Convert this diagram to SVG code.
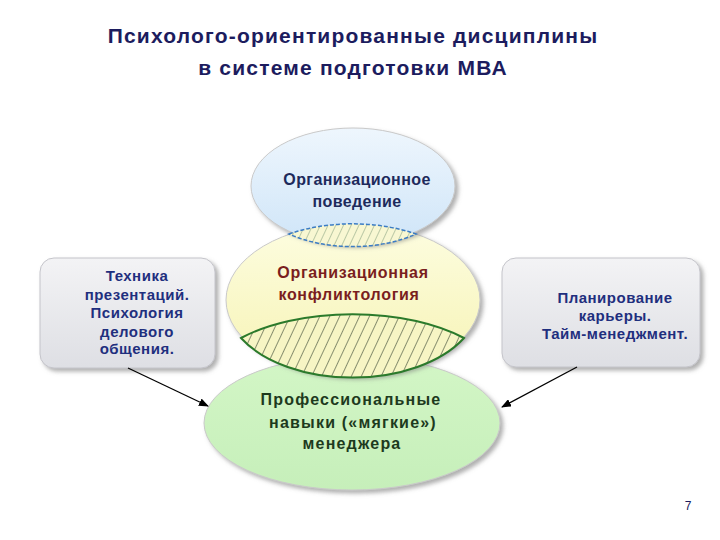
<svg xmlns="http://www.w3.org/2000/svg" width="720" height="540" viewBox="0 0 720 540">
  <defs>
    <style>
      text { font-family: "Liberation Sans", Arial, sans-serif; text-anchor: middle; }
      .title { font-size: 21px; font-weight: bold; fill: #1c1c5e; letter-spacing: 1.2px; }
      .box-text { font-size: 15px; font-weight: bold; fill: #1f2f7e; letter-spacing: 0.5px; }
      .t-blue { font-size: 16px; font-weight: bold; fill: #1d2a5c; letter-spacing: 0.4px; }
      .t-red { font-size: 16px; font-weight: bold; fill: #7a1e1e; letter-spacing: 0.7px; }
      .t-green { font-size: 16px; font-weight: bold; fill: #1d3a1d; letter-spacing: 1.2px; }
      .page { font-size: 12px; fill: #1c1c5e; }
      .box { stroke: #c4c4ca; stroke-width: 1; filter: url(#shadow); }
      .ell { filter: url(#shadow); stroke: #c9c9c9; stroke-width: 1; }
      .arrow { stroke: #000; stroke-width: 1.3; fill: none; marker-end: url(#arrowhead); }
    </style>
    <filter id="shadow" x="-10%" y="-10%" width="125%" height="130%">
      <feDropShadow dx="3" dy="3" stdDeviation="2" flood-color="#7a7a7a" flood-opacity="0.6"/>
    </filter>
    <linearGradient id="gBlue" x1="0" y1="0" x2="0" y2="1">
      <stop offset="0" stop-color="#eef6fd"/>
      <stop offset="1" stop-color="#cfe5f8"/>
    </linearGradient>
    <linearGradient id="gYellow" x1="0" y1="0" x2="0" y2="1">
      <stop offset="0" stop-color="#fdfde0"/>
      <stop offset="1" stop-color="#f6f3b4"/>
    </linearGradient>
    <linearGradient id="gGreen" x1="0" y1="0" x2="0" y2="1">
      <stop offset="0" stop-color="#d3f6c6"/>
      <stop offset="1" stop-color="#c6efba"/>
    </linearGradient>
    <linearGradient id="gBox" x1="0" y1="0" x2="0" y2="1">
      <stop offset="0" stop-color="#f3f3f5"/>
      <stop offset="1" stop-color="#dedfe4"/>
    </linearGradient>
    <pattern id="hatchDark" patternUnits="userSpaceOnUse" width="9" height="9" patternTransform="rotate(25)">
      <rect width="9" height="9" fill="#f7f5c4"/>
      <line x1="0" y1="0" x2="0" y2="9" stroke="#1a2a1a" stroke-width="1"/>
    </pattern>
    <pattern id="hatchLight" patternUnits="userSpaceOnUse" width="7" height="7" patternTransform="rotate(25)">
      <rect width="7" height="7" fill="#f8f7d2"/>
      <line x1="0" y1="0" x2="0" y2="7" stroke="#7c9a78" stroke-width="1"/>
    </pattern>
    <marker id="arrowhead" markerWidth="10" markerHeight="8" refX="9" refY="4" orient="auto" markerUnits="userSpaceOnUse">
      <path d="M0,0 L10,4 L0,8 Z" fill="#000"/>
    </marker>
  </defs>

  <rect width="720" height="540" fill="#ffffff"/>

  <g id="title">
    <text class="title" x="353" y="43">Психолого-ориентированные дисциплины</text>
    <text class="title" x="353" y="75">в системе подготовки МВА</text>
  </g>

  <g id="node-soft-skills">
    <ellipse class="ell" cx="352" cy="423" rx="148" ry="67" fill="url(#gGreen)"/>
    <text class="t-green" x="351" y="405">Профессиональные</text>
    <text class="t-green" x="353" y="428">навыки («мягкие»)</text>
    <text class="t-green" x="352" y="449">менеджера</text>
  </g>

  <g id="node-conflict">
    <ellipse class="ell" cx="353" cy="300" rx="127" ry="76" fill="url(#gYellow)"/>
  </g>

  <g id="node-org-behavior">
    <ellipse class="ell" cx="353" cy="186" rx="102" ry="58" fill="url(#gBlue)"/>
    <text class="t-blue" x="357" y="185">Организационное</text>
    <text class="t-blue" x="357" y="207">поведение</text>
  </g>

  <g id="overlap-top">
    <path d="M289,234 A127,76 0 0 1 416,234 A102,58 0 0 1 289,234 Z" fill="url(#hatchLight)" stroke="#3b7cc4" stroke-width="1.5" stroke-dasharray="4 2"/>
  </g>

  <g id="overlap-bottom">
    <path d="M241,338 A150,72 0 0 1 464,338 A127,76 0 0 1 241,338 Z" fill="url(#hatchDark)" stroke="#2b7a2b" stroke-width="2"/>
  </g>

  <g id="label-conflict">
    <text class="t-red" x="353" y="278">Организационная</text>
    <text class="t-red" x="349" y="300">конфликтология</text>
  </g>

  <g id="node-presentation">
    <rect class="box" x="40" y="258" width="175" height="110" rx="14" fill="url(#gBox)"/>
    <text class="box-text" x="137" y="281">Техника</text>
    <text class="box-text" x="137" y="300">презентаций.</text>
    <text class="box-text" x="137" y="318">Психология</text>
    <text class="box-text" x="137" y="337">делового</text>
    <text class="box-text" x="137" y="354">общения.</text>
  </g>

  <g id="node-career">
    <rect class="box" x="502" y="258" width="198" height="109" rx="14" fill="url(#gBox)"/>
    <text class="box-text" x="615" y="303">Планирование</text>
    <text class="box-text" x="615" y="321">карьеры.</text>
    <text class="box-text" x="615" y="339">Тайм-менеджмент.</text>
  </g>

  <g id="connectors">
    <line class="arrow" x1="128" y1="368" x2="208" y2="406"/>
    <line class="arrow" x1="577" y1="367" x2="502" y2="407"/>
  </g>

  <g id="page-number">
    <text class="page" x="688" y="510">7</text>
  </g>
</svg>
